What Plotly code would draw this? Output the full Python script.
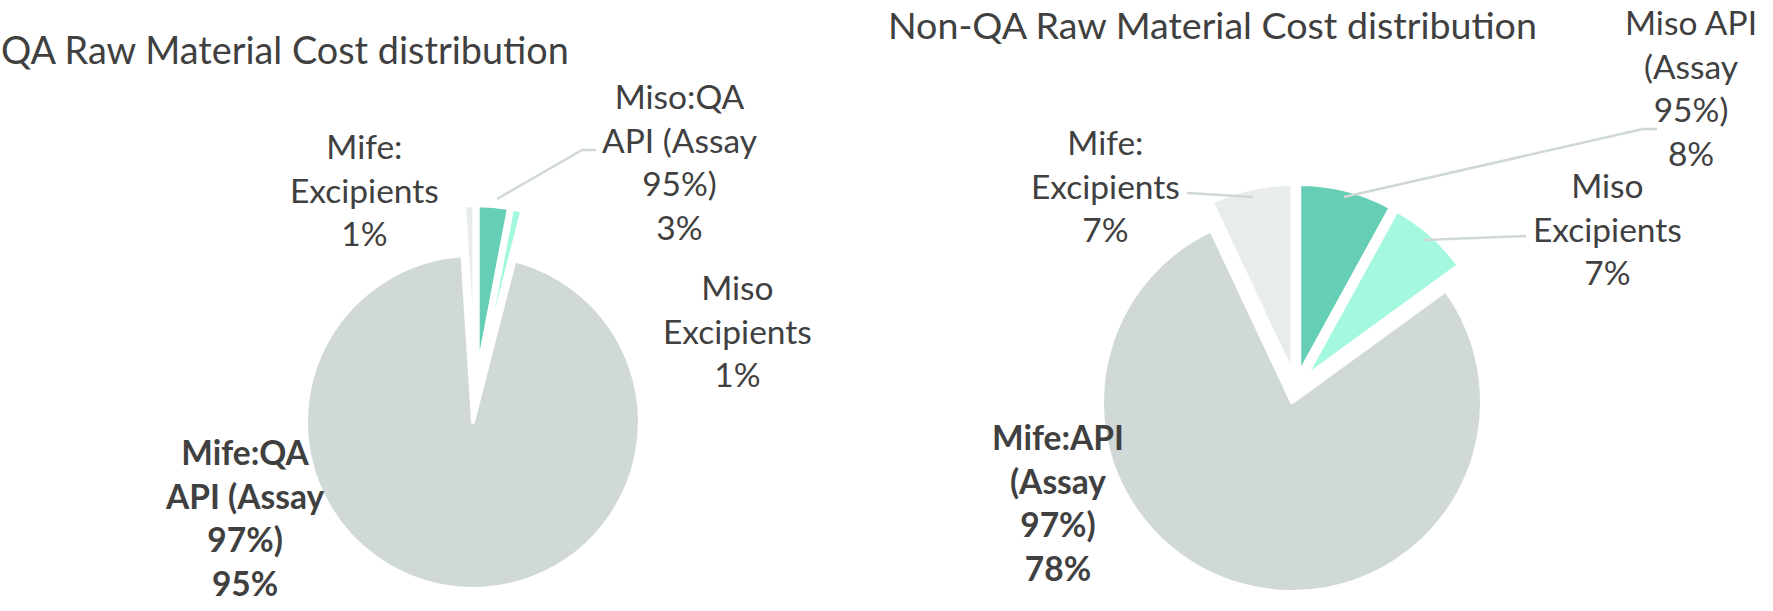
import textwrap
import plotly.graph_objects as go

# ---------------- data ----------------
qa_title = "QA Raw Material Cost distribution"
qa_categories = ["Miso:QA API (Assay 95%)", "Miso Excipients", "Mife:QA API (Assay 97%)", "Mife: Excipients"]
qa_values = [3, 1, 95, 1]

nonqa_title = "Non-QA Raw Material Cost distribution"
nonqa_categories = ["Miso API (Assay 95%)", "Miso Excipients", "Mife:API (Assay 97%)", "Mife: Excipients"]
nonqa_values = [8, 7, 78, 7]

# ---------------- style ----------------
W, H = 1773, 611
FONT = "Lato, 'Open Sans', sans-serif"
TXT = "#404040"
slice_colors = ["#66CEB5", "#A5F8E0", "#D1D9D8", "#E8ECED"]
LEADER = "#D0D8D7"


def px(x, y):
    return x / W, 1 - y / H


def label_text(cat, val, bold):
    lines = textwrap.wrap(cat, width=10) + [f"{val}%"]
    s = "<br>".join(lines)
    return f"<b>{s}</b>" if bold else s


fig = go.Figure()

# pie geometry (domains in paper fractions)
pies = [
    dict(cats=qa_categories, vals=qa_values, pull=0.15,
         dx=[0.1598, 0.3764], dy=[0.036, 0.6644]),
    dict(cats=nonqa_categories, vals=nonqa_values, pull=0.0763,
         dx=[0.6154, 0.8461], dy=[0.0303, 0.6997]),
]
for p in pies:
    fig.add_trace(go.Pie(
        labels=p["cats"], values=p["vals"], sort=False, direction="clockwise",
        rotation=0, pull=[p["pull"]] * len(p["vals"]),
        marker=dict(colors=slice_colors, line=dict(color="white", width=4)),
        textinfo="none", showlegend=False, hoverinfo="label+percent",
        domain=dict(x=p["dx"], y=p["dy"]),
    ))

# label placements (pixel centres)
qa_label_pos = [(679, 162), (737, 330), (245, 517), (364, 189)]
nonqa_label_pos = [(1691, 87), (1607, 229), (1058, 502), (1105, 185)]

for cats, vals, poss in [(qa_categories, qa_values, qa_label_pos),
                         (nonqa_categories, nonqa_values, nonqa_label_pos)]:
    big = vals.index(max(vals))
    for i, (c, v) in enumerate(zip(cats, vals)):
        x, y = px(*poss[i])
        fig.add_annotation(x=x, y=y, xref="paper", yref="paper", showarrow=False,
                           text=label_text(c, v, i == big), align="center",
                           xanchor="center", yanchor="middle",
                           font=dict(family=FONT, size=33.5, color=TXT))

# titles
for t, (x, y), s in [(qa_title, (-1, 50), 37.8), (nonqa_title, (886, 25), 37.6)]:
    xx, yy = px(x, y)
    fig.add_annotation(x=xx, y=yy, xref="paper", yref="paper", showarrow=False,
                       text=t, xanchor="left", yanchor="middle",
                       font=dict(family=FONT, size=s, color=TXT))

# leader lines
leaders = [
    [(497, 199), (582, 150), (596, 150)],
    [(1344, 197), (1643, 129), (1657, 129)],
    [(1424, 240), (1526, 236)],
    [(1253, 197), (1187, 193)],
]
for pts in leaders:
    for (x0, y0), (x1, y1) in zip(pts[:-1], pts[1:]):
        a0, b0 = px(x0, y0)
        a1, b1 = px(x1, y1)
        fig.add_shape(type="line", xref="paper", yref="paper", x0=a0, y0=b0, x1=a1, y1=b1,
                      line=dict(color=LEADER, width=2.5))

fig.update_layout(width=W, height=H, margin=dict(l=0, r=0, t=0, b=0),
                  paper_bgcolor="white", plot_bgcolor="white",
                  font=dict(family=FONT, color=TXT))
fig.write_html("out.html", config={"displayModeBar": False},
               post_script="document.body.style.margin='0px';")
